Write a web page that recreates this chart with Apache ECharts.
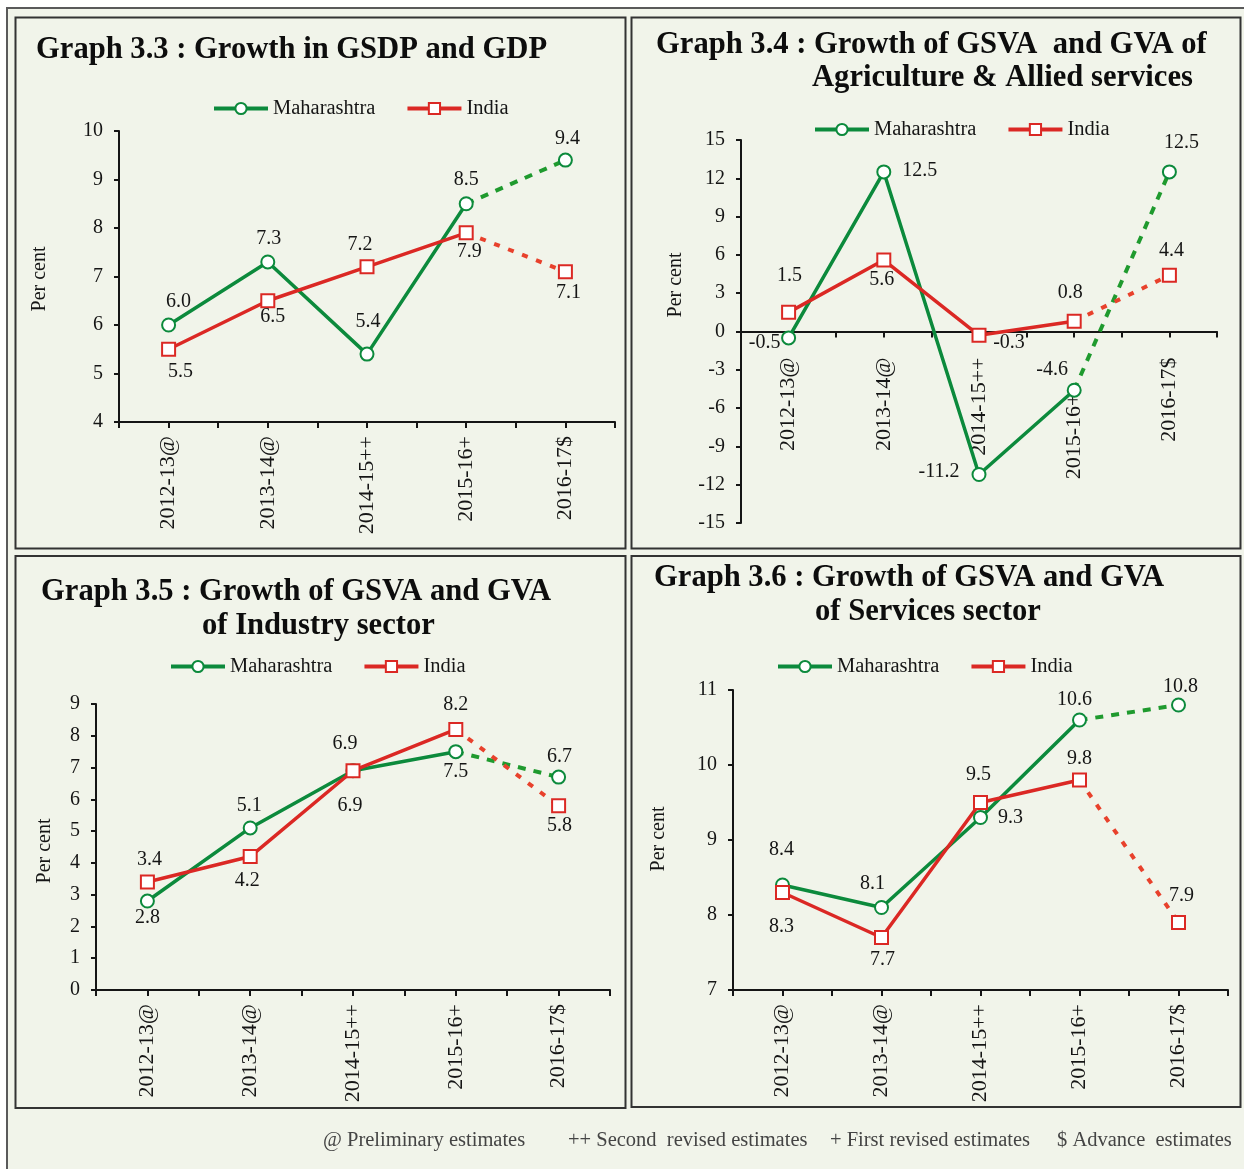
<!DOCTYPE html>
<html lang="en">
<head>
  <meta charset="UTF-8">
  <title>Growth of GSDP / GSVA - Maharashtra and India</title>
  <script src="https://cdn.jsdelivr.net/npm/echarts@6/dist/echarts.min.js"></script>
  <style>
    html, body { margin: 0; padding: 0; background: #fff; }
  </style>
</head>
<body>

<div id="chart" style="width: 1244px; height: 1169px;"></div>

<script>
  // categories
  var years = ['2012-13@', '2013-14@', '2014-15++', '2015-16+', '2016-17$'];

  // Graph 3.3 : GSDP / GDP growth
  var gsdpMah = [6.0, 7.3, 5.4, 8.5, 9.4];
  var gdpInd = [5.5, 6.5, 7.2, 7.9, 7.1];
  // Graph 3.4 : agriculture & allied
  var agriMah = [-0.5, 12.5, -11.2, -4.6, 12.5];
  var agriInd = [1.5, 5.6, -0.3, 0.8, 4.4];
  // Graph 3.5 : industry
  var indusMah = [2.8, 5.1, 6.9, 7.5, 6.7];
  var indusInd = [3.4, 4.2, 6.9, 8.2, 5.8];
  // Graph 3.6 : services
  var servMah = [8.4, 8.1, 9.3, 10.6, 10.8];
  var servInd = [8.3, 7.7, 9.5, 9.8, 7.9];

  var notes = ['@ Preliminary estimates', '++ Second  revised estimates', '+ First revised estimates', '$ Advance  estimates'];

  var FONT = "'Liberation Serif', 'Times New Roman', serif";
  var GREEN = '#0c8a3c';
  var RED = '#db2824';
  var INK = '#151515';

  // layout of the four panels
  var panels = [
    {
      mah: gsdpMah, ind: gdpInd,
      grid: { left: 119, top: 131, width: 496, height: 291 },
      y: { min: 4, max: 10, interval: 1 },
      legend: { left: 207, top: 93 },
      titles: [['Graph 3.3 : Growth in GSDP and GDP', 36, 50]],
      perCent: [40, 279],
      xMargin: 14, xOffset: 0, labelPad: null,
      offM: [[10, -23], [1, -23], [1, -32], [0, -24], [2, -21]],
      offI: [[12, 22], [5, 16], [-7, -22], [3, 19], [3, 21]]
    },
    {
      mah: agriMah, ind: agriInd,
      grid: { left: 741, top: 140, width: 476, height: 383 },
      y: { min: -15, max: 15, interval: 3 },
      legend: { left: 808, top: 114 },
      titles: [['Graph 3.4 : Growth of GSVA  and GVA of', 656, 45], ['Agriculture & Allied services', 812, 78]],
      perCent: [676, 285],
      xMargin: 26, xOffset: -191.5, labelPad: [3, 36],
      offM: [[-24, 5], [36, -1], [-40, -3], [-22, -20], [12, -29]],
      offI: [[1, -37], [-2, 20], [30, 7], [-4, -29], [2, -25]]
    },
    {
      mah: indusMah, ind: indusInd,
      grid: { left: 96, top: 704, width: 514, height: 286 },
      y: { min: 0, max: 9, interval: 1 },
      legend: { left: 164, top: 651 },
      titles: [['Graph 3.5 : Growth of GSVA and GVA', 41, 592], ['of Industry sector', 202, 626]],
      perCent: [45, 851],
      xMargin: 14, xOffset: 0, labelPad: null,
      offM: [[0, 17], [-1, -22], [-8, -27], [0, 20], [1, -20]],
      offI: [[2, -22], [-3, 24], [-3, 35], [0, -25], [1, 20]]
    },
    {
      mah: servMah, ind: servInd,
      grid: { left: 733, top: 690, width: 495, height: 300 },
      y: { min: 7, max: 11, interval: 1 },
      legend: { left: 771, top: 651 },
      titles: [['Graph 3.6 : Growth of GSVA and GVA', 654, 578], ['of Services sector', 815, 612]],
      perCent: [659, 839],
      xMargin: 14, xOffset: 0, labelPad: null,
      offM: [[-1, -35], [-9, -24], [30, 0], [-5, -20], [2, -18]],
      offI: [[-1, 34], [1, 22], [-2, -28], [0, -21], [3, -27]]
    }
  ];

  var myChart = echarts.init(document.getElementById('chart'));

  var grids = [], xAxes = [], yAxes = [], legends = [], series = [];
  var graphics = [
    // white margin outside the page frame
    { type: 'rect', shape: { x: 0, y: 0, width: 1244, height: 7 }, style: { fill: '#fff' } },
    { type: 'rect', shape: { x: 0, y: 0, width: 6, height: 1169 }, style: { fill: '#fff' } },
    { type: 'rect', shape: { x: 7, y: 8, width: 1260, height: 1200 }, style: { fill: 'none', stroke: '#5a5a5a', lineWidth: 2 } },
    // panel frames
    { type: 'rect', shape: { x: 15.5, y: 17.5, width: 610, height: 531 }, style: { fill: 'none', stroke: '#333', lineWidth: 2 } },
    { type: 'rect', shape: { x: 631.5, y: 17.5, width: 609, height: 531 }, style: { fill: 'none', stroke: '#333', lineWidth: 2 } },
    { type: 'rect', shape: { x: 15.5, y: 556, width: 610, height: 552 }, style: { fill: 'none', stroke: '#333', lineWidth: 2 } },
    { type: 'rect', shape: { x: 631.5, y: 556, width: 609, height: 551 }, style: { fill: 'none', stroke: '#333', lineWidth: 2 } }
  ];

  var noteX = [323, 568, 830, 1057];
  notes.forEach(function (t, i) {
    graphics.push({
      type: 'text', x: noteX[i], y: 1141,
      style: { text: t, font: '20.5px ' + FONT, fill: '#444', align: 'left', verticalAlign: 'middle' }
    });
  });

  function labelItem(v, off) {
    return {
      value: v,
      label: { show: true, position: 'inside', offset: off }
    };
  }

  panels.forEach(function (p, k) {
    grids.push(Object.assign({ containLabel: false }, p.grid));

    // in graph 3.4 the 2015-16+ label sits lower, clear of the -4.6 point
    var cats = years.map(function (c, i) {
      if (p.labelPad && i === p.labelPad[0]) {
        return { value: c, textStyle: { padding: [0, p.labelPad[1], 0, 0] } };
      }
      return c;
    });

    xAxes.push({
      type: 'category', gridIndex: k, data: cats, position: 'bottom',
      boundaryGap: true, offset: p.xOffset,
      axisLine: { onZero: false, lineStyle: { color: INK, width: 2 } },
      axisTick: { show: true, interval: 0, length: 6, lineStyle: { color: INK, width: 2 } },
      axisLabel: {
        interval: 0, rotate: 90, margin: p.xMargin,
        fontFamily: FONT, fontSize: 22, color: INK
      }
    });
    // second axis only for ticks under each category
    xAxes.push({
      type: 'category', gridIndex: k, data: years, position: 'bottom',
      boundaryGap: true, offset: p.xOffset,
      axisLine: { show: false, onZero: false },
      axisTick: { show: true, alignWithLabel: true, interval: 0, length: 6, lineStyle: { color: INK, width: 2 } },
      axisLabel: { show: false }
    });

    yAxes.push({
      type: 'value', gridIndex: k,
      min: p.y.min, max: p.y.max, interval: p.y.interval,
      axisLine: { show: true, lineStyle: { color: INK, width: 2 } },
      axisTick: { show: true, length: 5, lineStyle: { color: INK, width: 2 } },
      splitLine: { show: false },
      axisLabel: { margin: 16, fontFamily: FONT, fontSize: 20, color: INK }
    });

    legends.push({
      left: p.legend.left, top: p.legend.top,
      data: ['Maharashtra', 'India'],
      itemWidth: 54, itemHeight: 14, itemGap: 30,
      selectedMode: false,
      lineStyle: { width: 4 },
      textStyle: { fontFamily: FONT, fontSize: 20.5, color: INK }
    });

    p.titles.forEach(function (t) {
      graphics.push({
        type: 'text', x: t[1], y: t[2],
        style: { text: t[0], font: 'bold 30.6px ' + FONT, fill: '#0d0d0d', align: 'left', verticalAlign: 'middle' }
      });
    });

    graphics.push({
      type: 'text', x: p.perCent[0], y: p.perCent[1], rotation: Math.PI / 2,
      style: { text: 'Per cent', font: '20px ' + FONT, fill: INK, align: 'center', verticalAlign: 'middle' }
    });

    [['Maharashtra', p.mah, p.offM, GREEN, 'circle', [8, 8]],
     ['India', p.ind, p.offI, RED, 'rect', [6, 9]]].forEach(function (s) {
      var vals = s[1], offs = s[2];
      var solid = vals.map(function (v, i) { return i < 4 ? labelItem(v, offs[i]) : '-'; });
      var dashed = vals.map(function (v, i) {
        if (i < 3) return '-';
        if (i === 3) return { value: v, symbol: 'none', label: { show: false } };
        return labelItem(v, offs[i]);
      });
      var common = {
        type: 'line', name: s[0],
        xAxisIndex: 2 * k, yAxisIndex: k,
        symbol: s[4], symbolSize: 13,
        showAllSymbol: true,
        itemStyle: { color: '#fff', borderColor: s[3], borderWidth: 2 },
        label: {
          fontFamily: FONT, fontSize: 20, color: INK,
          formatter: function (d) { return d.value.toFixed(1); }
        },
        emphasis: { disabled: true },
        animation: false
      };
      series.push(Object.assign({}, common, {
        data: solid,
        lineStyle: { color: s[3], width: 3.5 },
        z: 3
      }));
      series.push(Object.assign({}, common, {
        data: dashed,
        lineStyle: { color: s[3] === GREEN ? '#1f9a2e' : '#e8412c', width: 4, type: s[5] },
        z: 2
      }));
    });
  });

  var option = {
    backgroundColor: '#f1f4ea',
    animation: false,
    grid: grids,
    xAxis: xAxes,
    yAxis: yAxes,
    legend: legends,
    graphic: graphics,
    series: series
  };

  myChart.setOption(option);
</script>

</body>
</html>
